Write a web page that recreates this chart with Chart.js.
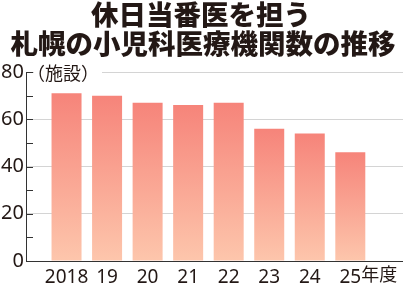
<!DOCTYPE html>
<html>
<head>
<meta charset="utf-8">
<script src="https://cdn.jsdelivr.net/npm/chart.js@4/dist/chart.umd.min.js"></script>
<style>
  html, body { margin: 0; padding: 0; background: #fff; }
  #wrap { width: 403px; height: 284px; }
</style>
</head>
<body>
<div id="wrap"><canvas id="c"></canvas></div>
<script>
const title_lines = ["休日当番医を担う", "札幌の小児科医療機関数の推移"];
const years = ["2018", "19", "20", "21", "22", "23", "24", "25"];
const counts = [71, 70, 67, 66, 67, 56, 54, 46];
const y_ticks = [0, 20, 40, 60, 80];
const unit_label = "（施設）";
const year_suffix = "年度";

const ink = "#231815";
const bar_top = "rgb(246,132,122)";
const bar_bottom = "rgb(253,198,172)";

function bar_fill(ctx) {
    const chart = ctx.chart;
    if (!chart.chartArea || !ctx.raw) return bar_top;
    const y = chart.scales.y;
    const top = y.getPixelForValue(ctx.raw.y);
    const bottom = y.getPixelForValue(0);
    const g = chart.ctx.createLinearGradient(0, top, 0, bottom);
    g.addColorStop(0, bar_top);
    g.addColorStop(1, bar_bottom);
    return g;
}

const extras = {
    id: "extras",
    afterDraw(chart) {
        const c = chart.ctx;
        const area = chart.chartArea;
        const y = chart.scales.y;
        const x = chart.scales.x;
        c.save();
        // title
        c.fillStyle = ink;
        c.textAlign = "center";
        c.textBaseline = "middle";
        c.font = "900 27.5px 'Noto Sans CJK JP'";
        c.fillText(title_lines[0], 201, 15);
        c.fillText(title_lines[1], 203, 44);
        // short dark ticks inside the axis
        c.strokeStyle = "#333";
        c.lineWidth = 1;
        for (let v = 10; v <= 80; v += 10) {
            const py = Math.round(y.getPixelForValue(v)) + 0.5;
            c.beginPath();
            c.moveTo(area.left, py);
            c.lineTo(area.left + 7, py);
            c.stroke();
        }
        // unit label
        c.font = "18px 'Noto Sans CJK JP'";
        c.textAlign = "left";
        const w = c.measureText(unit_label).width;
        const uy = y.getPixelForValue(80);
        c.fillStyle = "#fff";
        c.fillRect(area.left + 8, uy - 3, w - 4, 6);
        c.fillStyle = ink;
        c.fillText(unit_label, area.left + 1, uy + 1);
        // suffix after last year
        c.font = "19px 'Noto Sans'";
        const last = years[years.length - 1];
        const lx = x.getPixelForValue(years.length - 1) + c.measureText(last).width / 2;
        c.font = "18px 'Noto Sans CJK JP'";
        c.textBaseline = "alphabetic";
        c.fillText(year_suffix, lx, 281);
        c.restore();
    }
};

new Chart(document.getElementById("c"), {
    type: "bar",
    data: {
        datasets: [{
            data: counts.map((v, i) => ({ x: i, y: v })),
            backgroundColor: bar_fill,
            borderWidth: 0,
            barPercentage: 0.74,
            categoryPercentage: 1
        }]
    },
    options: {
        responsive: true,
        maintainAspectRatio: false,
        animation: false,
        events: [],
        layout: { padding: { top: 72, right: 0, left: 0, bottom: 0 } },
        plugins: {
            legend: { display: false },
            tooltip: { enabled: false },
            title: { display: false }
        },
        scales: {
            x: {
                type: "linear",
                offset: false,
                min: -1,
                max: 8.3,
                afterBuildTicks: (s) => { s.ticks = years.map((_, i) => ({ value: i })); },
                afterFit: (s) => { s.height = 23; },
                grid: { display: false, drawTicks: false, offset: false },
                border: { display: true, color: "#333", width: 1 },
                ticks: {
                    autoSkip: false,
                    maxRotation: 0,
                    padding: 5,
                    color: ink,
                    font: { family: "'Noto Sans'", size: 19 },
                    callback: (v) => years[v]
                }
            },
            y: {
                min: 0,
                max: 80,
                afterBuildTicks: (s) => {
                    const t = [];
                    for (let v = 0; v <= 80; v += 10) t.push({ value: v });
                    s.ticks = t;
                },
                afterFit: (s) => { s.width = 26; },
                grid: { color: "#d4d4d4", lineWidth: 1, drawTicks: false },
                border: { display: true, color: "#333", width: 1 },
                ticks: {
                    padding: 2,
                    color: ink,
                    font: { family: "'Noto Sans'", size: 20 },
                    callback: (v) => y_ticks.includes(v) ? String(v) : ""
                }
            }
        }
    },
    plugins: [extras]
});
</script>
</body>
</html>
